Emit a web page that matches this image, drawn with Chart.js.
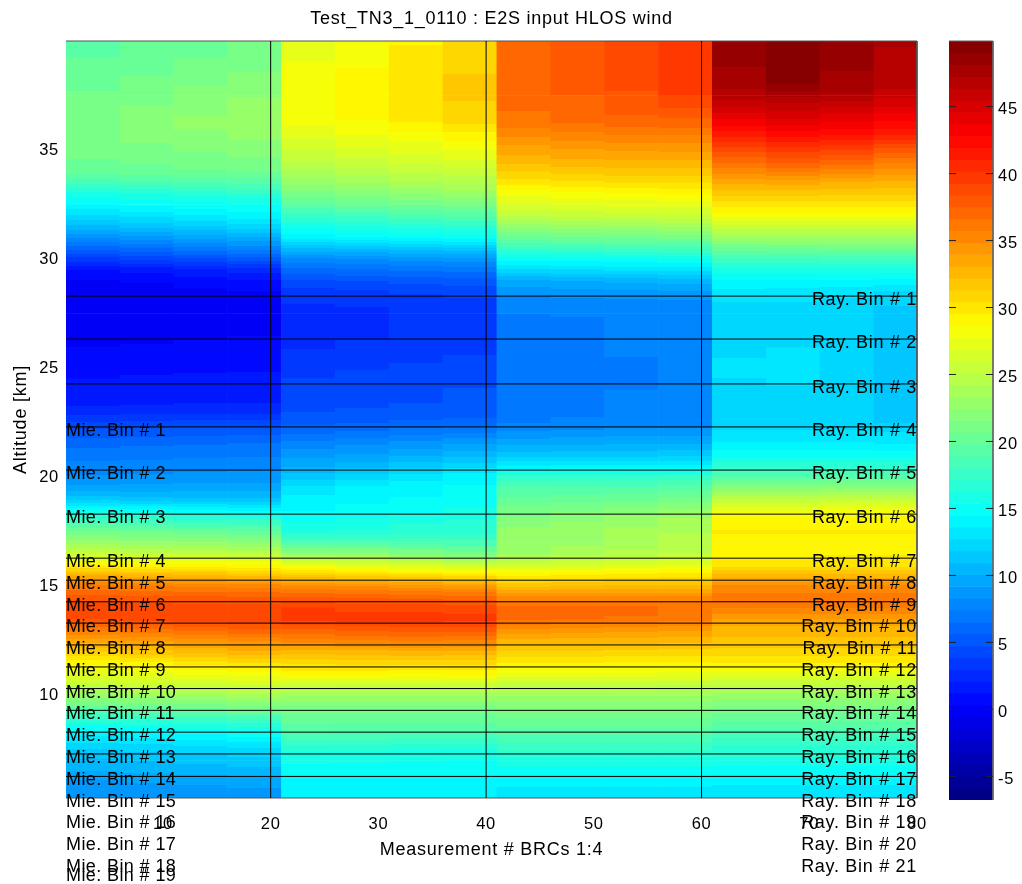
<!DOCTYPE html>
<html><head><meta charset="utf-8">
<script src="https://cdn.jsdelivr.net/npm/chart.js@4/dist/chart.umd.min.js"></script>
<style>
html,body{margin:0;padding:0;background:#fff;overflow:hidden}
#main{position:absolute;left:0;top:0}
#bar{position:absolute;left:930px;top:0}
</style></head><body>
<canvas id="main" width="1022" height="884"></canvas>
<canvas id="bar" width="92" height="884"></canvas>
<script>
const titleText = "Test_TN3_1_0110 : E2S input HLOS wind";
const xLabelText = "Measurement # BRCs 1:4";
const yLabelText = "Altitude [km]";
const xTickValues = [10,20,30,40,50,60,70,80];
const yTickValues = [10,15,20,25,30,35];
const colorTickValues = [-5,0,5,10,15,20,25,30,35,40,45];
const xRange = [1,80];
const yRange = [5.28,40];
const colorRange = [-6.77,49.9];
const colorLevels = 64;
const brcLines = [20,40,60];
const binLines = [28.3,26.33,24.27,22.3,20.32,18.3,16.28,15.27,14.28,13.3,12.3,11.29,10.3,9.3,8.3,7.3,6.27];
const mieLabelAlts = [22.3,20.32,18.3,16.28,15.27,14.28,13.3,12.3,11.29,10.3,9.3,8.3,7.3,6.27,5.29,4.3,3.3,2.3,1.9];
const rayLabelAlts = [28.3,26.33,24.27,22.3,20.32,18.3,16.28,15.27,14.28,13.3,12.3,11.29,10.3,9.3,8.3,7.3,6.27,5.29,4.3,3.3,2.3];
const altitudes = [40,39.5,39,38.5,38,37.5,37,36.5,36,35.5,35,34.5,34,33.5,33,32.5,32,31.5,31,30.5,30,29.5,29,28.5,28,27.5,27,26.5,26,25.5,25,24.5,24,23.5,23,22.5,22,21.5,21,20.5,20,19.5,19,18.5,18,17.5,17,16.5,16,15.5,15,14.5,14,13.5,13,12.5,12,11.5,11,10.5,10,9.5,9,8.5,8,7.5,7,6.5,6,5.5];
const columnMeasurements = [3.5,8.5,13.5,18.5,23.5,28.5,33.5,38.5,43.5,48.5,53.5,58.5,63.5,68.5,73.5,78.5];

const brc1 = [[19.6,19.9,20.3,20.8],[19.7,20,20.5,21],[19.9,20.3,20.8,21.3],[20.2,20.6,21.1,21.6],[20.5,21,21.5,22],
[20.8,21.3,21.9,22.4],[21,21.6,22.2,22.7],[21.3,21.8,22.5,23],[21.4,21.9,22.5,23],[21.3,21.7,22.2,22.5],
[21,21.3,21.7,22],[20.6,20.8,21.1,21.3],[20.1,20.3,20.5,20.7],[18.3,18.6,18.9,19.2],[15.8,16.2,16.6,17],
[14.4,14.8,15,15.2],[12.6,13,13.6,14.2],[10.8,11.3,11.8,12.4],[8.5,9,9.5,10],[6,6.5,7.2,7.8],
[3.5,4,4.6,5.2],[1.2,1.5,2,2.5],[0.2,0.4,0.7,1.1],[-0.2,-0.1,0.1,0.3],[-0.4,-0.4,-0.3,0],
[-0.4,-0.5,-0.3,0.1],[-0.3,-0.3,-0.1,0.2],[0,0,0.2,0.3],[0.3,0.4,0.5,0.5],[0.6,0.7,0.8,0.8],
[0.9,1,1,1.1],[1.2,1.3,1.4,1.4],[1.5,1.6,1.7,1.7],[1.7,1.8,1.9,1.9],[2.5,2.6,2.7,2.7],
[4,4.1,4.2,4.2],[5.2,5.3,5.4,5.5],[6.3,6.4,6.5,6.6],[7,7.1,7.2,7.3],[7.7,7.8,7.9,8],
[8.4,8.5,8.6,8.6],[9.5,9.5,9.6,9.6],[11.4,11.2,11,11],[15,14.7,14.4,14.2],[18,17.8,17.4,17.2],
[20.8,20.5,20.2,20],[23,22.8,22.5,22.2],[25.5,25.2,25,24.8],[28.8,28.7,28.6,28.5],[33,32.6,32.2,31.8],
[36,35.8,35.6,35.4],[37.8,37.7,37.6,37.5],[39,39,38.9,38.9],[38.5,38.8,38.9,39],[36,36.5,37,37.5],
[33.5,34,34.5,35],[31.5,32,32.5,33],[29,29.5,30,30.5],[27.2,27.5,28,28.4],[25.6,25.8,26,26.2],
[23,23.2,23.5,24],[20.4,20.8,21.2,21.6],[17.6,18,18.4,18.8],[15,15.2,15.5,16],[13.2,13.4,13.8,14.1],
[11.8,12,12.2,12.5],[10.8,11,11.2,11.5],[10,10.2,10.4,10.6],[9,9.2,9.4,9.6],[8.3,8.4,8.6,8.8]];

const brc2 = [[27.4,28.5,29.5,30.6],[27.6,28.6,29.6,30.6],[27.8,28.6,29.8,31],[27.8,28.7,30,31.3],[27.9,28.9,30.3,31.6],
[28,29,30.3,31.4],[28.2,28.9,30.2,31.2],[28.2,28.8,30,31],[27.6,28.2,29,30],[26.8,27.5,28,28.8],
[26,26.6,27.2,27.8],[25.2,25.8,26.3,26.8],[24,24.8,25.2,25.5],[22.8,23.4,24,24.4],[21.2,22,22.5,23],
[19.6,20.2,20.8,21.2],[17.6,18.2,18.8,19.2],[15.6,16.2,16.6,16.8],[14,14.4,14.8,15],[11,11.2,11.5,11.7],
[8,8.3,8.6,8.8],[6.2,6.5,6.7,6.9],[4.6,4.8,5,5.2],[3.5,3.7,4,4.2],[3,3.1,3.4,3.6],
[2.7,2.8,3.1,3.4],[2.6,2.8,3.1,3.4],[2.7,2.9,3.2,3.5],[2.9,3.1,3.4,3.7],[3.2,3.4,3.7,3.9],
[3.5,3.8,4,4.2],[3.9,4.2,4.4,4.5],[4.3,4.5,4.6,4.8],[4.5,4.6,4.7,4.9],[4.7,4.8,4.9,5],
[5.4,5.6,5.8,6],[6.5,6.8,7.2,7.5],[7.8,8.2,8.7,9.2],[8.9,9.3,9.9,10.6],[10,10.6,11.5,12.4],
[11.4,12.3,13.2,14.2],[13,13.8,14.4,14.6],[13.9,14.3,14.5,14.7],[14.4,14.7,15.1,15.5],[15.2,15.6,16,16.3],
[16.2,16.5,16.8,16.8],[18.8,18.6,18.6,18.4],[22.5,22.5,21.5,21],[27,26.5,26,25.5],[31.5,31,30.5,30],
[35,34.8,34.4,34],[37.6,37.4,37.2,37],[39.3,39,39,38.8],[39.8,39.8,39.8,39.6],[37.4,37.8,38,38],
[35.4,35.6,35.8,35.6],[32.6,32.8,33,33],[30.6,30.8,30.9,30.8],[29.2,29.2,29,29],[26,25.8,25.8,25.9],
[23.5,23.5,23.5,23.5],[21.4,21.4,21.4,21.4],[20.4,20.4,20.4,20.4],[19.5,19.4,19.3,19.3],[18.2,18.2,18,18],
[16.4,16.4,16.3,16.2],[15.6,15.5,15.4,15.3],[14.8,14.8,14.8,14.8],[14.2,14.2,14.2,14.2],[13.6,13.6,13.6,13.6]];

const brc3 = [[37.4,38.2,39.3,40.1],[37.2,38,39,40],[37,37.9,38.8,39.9],[37,37.8,38.6,39.8],[37,37.6,38.5,39.7],
[36.9,37.5,38.3,39.3],[36.8,37.3,38,38.5],[36.4,37,37.4,37.6],[35.7,36.2,36.5,36.6],[34.6,35,35.2,35.2],
[33.5,33.9,34.1,34.2],[32.6,32.9,33,33],[31.3,31.6,31.8,31.8],[29.9,30.2,30.4,30.4],[28,28.4,28.6,28.8],
[26.8,27,27.2,27.4],[25.3,25.4,25.6,25.8],[22.8,23,23.2,23.4],[20.5,20.7,20.9,21],[17.7,18,18.2,18.4],
[14.8,15,15.2,15.4],[12.5,12.7,12.9,13],[9.9,10.1,10.3,10.5],[8.6,8.8,8.9,9],[7.8,7.9,8,8],
[7.4,7.5,7.7,7.9],[7.2,7.2,7.5,7.8],[7.1,7.2,7.5,7.8],[7.1,7.2,7.4,7.7],[7.1,7.1,7.4,7.7],
[7.1,7.1,7.3,7.7],[7.1,7.1,7.3,7.6],[7.1,7.1,7.4,7.6],[7.2,7.2,7.5,7.6],[7.2,7.3,7.6,7.6],
[7.3,7.5,7.7,7.7],[8.5,8.7,8.9,8.9],[9.9,10,10.1,10.1],[11.4,11.5,11.5,11.6],[13.7,13.8,13.8,13.9],
[17.2,17.3,17.3,17.5],[19,19.1,19.1,19.4],[20,20.2,20.4,20.8],[21,21.4,21.8,22.6],[21.9,22.3,22.9,23.6],
[22.8,23.2,23.7,24.2],[22.8,23.2,23.8,24.4],[23.2,23.8,24.4,25],[25.6,26,26.6,27],[29.4,29.6,29.8,30],
[32,32.2,32.4,32.4],[35,35,35,35],[36.9,36.9,36.9,36.6],[36.8,36.7,36.5,36.2],[34.8,34.6,34.4,34.2],
[32.7,32.7,32.6,32.5],[31.2,31.2,31.1,31],[29.7,29.6,29.5,29.5],[27.8,27.8,27.7,27.6],[25.4,25.4,25.4,25.3],
[23.4,23.4,23.4,23.4],[22,22,22,22],[20.8,20.8,20.8,20.8],[19.8,19.8,19.8,19.8],[18.5,18.5,18.5,18.5],
[17.3,17.3,17.3,17.3],[16,16,16,16],[14.9,14.9,14.9,14.9],[14.1,14.1,14.1,14.1],[13,13,13,13]];

const brc4 = [[48.4,49.6,48.5,47.3],[48.3,49.5,48.4,47.2],[48.2,49.3,48.2,47.1],[48,49.2,48.1,47],[47.5,49,47.9,46.8],
[46.8,47.4,47,45.8],[45.6,45.9,45.6,44.6],[44,44.8,44.2,43.2],[42.5,43.2,43,42.1],[40.6,41.6,41.3,40.4],
[38.7,39.5,39.2,38],[36.9,37.9,37.4,36],[35.2,35.8,35.2,34.4],[33.2,33.4,33,32.8],[31.6,31.6,31.5,31.5],
[29.9,29.9,29.9,30],[28.2,28.2,28.2,28.2],[25.6,25.6,25.6,25.6],[23.6,23.6,23.6,23.6],[20.5,20.6,20.8,20.8],
[18,18,18.2,18.2],[15.8,15.8,15.9,15.8],[14.3,14.3,14.3,14.2],[13.3,13.2,13.1,12.6],[12.7,12.7,12.4,12],
[12.4,12.4,12,11.5],[12.2,12.3,11.9,11.1],[12.3,12.5,12,11.3],[12.5,12.7,12.2,11.5],[12.7,13,12.6,11.8],
[12.8,13.1,12.6,11.8],[12.7,12.9,12.4,11.6],[12.5,12.6,12,11.3],[12.3,12.3,11.9,11.3],[12.1,12.1,11.9,11.5],
[12.2,12.2,12,11.8],[13,13,13,12.8],[13.8,13.8,13.8,13.6],[15.1,15.1,15.1,15],[17,17,17,16.9],
[19.2,19.2,19.4,19.4],[22,22,22.2,22.2],[25,25,25.2,25.2],[27.6,27.6,27.8,27.8],[29,29,29,29],
[29.6,29.6,29.6,29.6],[29.3,29.3,29.3,29.3],[29.3,29.3,29.5,29.5],[29.8,29.8,29.8,29.8],[32.5,32.5,32.5,32.5],
[35,35,35,35],[36.2,36.2,36.2,36.2],[35.8,35.8,35.8,35.8],[34,34,34,34],[32.6,32.6,32.6,32.6],
[32,32,32,32],[31,31,31,31],[29.6,29.6,29.6,29.6],[27.3,27.3,27.3,27.3],[25.2,25.2,25.2,25.2],
[23,23,23,23],[21.5,21.5,21.5,21.5],[20.3,20.3,20.3,20.3],[19,19,19,19],[17.8,17.8,17.8,17.8],
[16.7,16.7,16.7,16.7],[16,16,16,16],[14.8,14.8,14.8,14.8],[13.8,13.8,13.8,13.8],[12.8,12.8,12.8,12.8]];

const colorSpan=colorRange[1]-colorRange[0];
function clamp01(a){return Math.max(0,Math.min(1,a));}
function jetLevel(i){
  const t=(i+0.5)/colorLevels;
  const c=k=>Math.round(255*clamp01(1.5-Math.abs(4*t-k)));
  return `rgb(${c(3)},${c(2)},${c(1)})`;
}
function levelOf(v){
  return Math.max(0,Math.min(colorLevels-1,Math.floor((v-colorRange[0])/colorSpan*colorLevels)));
}
// Shades a cell between its two row values, in the 64 bands of the colour scale.
function cellFill(c,yScale){
  const a=levelOf(c.top), b=levelOf(c.bottom);
  if(a===b) return jetLevel(a);
  const g=yScale.ctx.createLinearGradient(0,yScale.getPixelForValue(c.y[1]),0,yScale.getPixelForValue(c.y[0]));
  const dir=b>a?1:-1;
  let from=0;
  for(let i=a;i!==b;i+=dir){
    const edge=colorRange[0]+(dir>0?i+1:i)*colorSpan/colorLevels;
    const p=clamp01((edge-c.top)/(c.bottom-c.top));
    g.addColorStop(from,jetLevel(i));
    g.addColorStop(p,jetLevel(i));
    from=p;
  }
  g.addColorStop(from,jetLevel(b));
  g.addColorStop(1,jetLevel(b));
  return g;
}

const cells=[];
altitudes.forEach((alt,r)=>{
  const row=[...brc1[r],...brc2[r],...brc3[r],...brc4[r]];
  const last=r===altitudes.length-1;
  const below=last?row:[...brc1[r+1],...brc2[r+1],...brc3[r+1],...brc4[r+1]];
  const lower=last?yRange[0]:altitudes[r+1];
  row.forEach((v,c)=>{
    cells.push({x:columnMeasurements[c],y:[lower,alt],top:v,bottom:below[c]});
  });
});

const lineBase={type:'line',pointRadius:0,borderWidth:1,borderColor:'#000',order:1,fill:false,tension:0};
const lineDatasets=[
  ...binLines.map(a=>({...lineBase,data:[{x:xRange[0],y:a},{x:xRange[1],y:a}]})),
  ...brcLines.map(m=>({...lineBase,data:[{x:m,y:yRange[0]},{x:m,y:yRange[1]}]})),
  {...lineBase,borderColor:'#555',clip:2,data:[{x:xRange[0],y:yRange[1]},{x:xRange[1],y:yRange[1]},{x:xRange[1],y:yRange[0]},{x:xRange[0],y:yRange[0]}]}
];

const textSpacing={id:'textSpacing',beforeDraw(chart){chart.ctx.letterSpacing='0.75px';}};
const binLabels={id:'binLabels',afterDatasetsDraw(chart){
  const {ctx,scales:{x,y}}=chart;
  ctx.save();
  ctx.font='18px "Liberation Sans"';
  ctx.fillStyle='#000';
  ctx.textBaseline='middle';
  ctx.letterSpacing='0.4px';
  ctx.textAlign='left';
  mieLabelAlts.forEach((a,i)=>ctx.fillText('Mie. Bin # '+(i+1),x.getPixelForValue(xRange[0]),y.getPixelForValue(a)+4));
  ctx.letterSpacing='0.7px';
  ctx.textAlign='right';
  rayLabelAlts.forEach((a,i)=>ctx.fillText('Ray. Bin # '+(i+1),x.getPixelForValue(xRange[1]),y.getPixelForValue(a)+4));
  ctx.restore();
}};

const fontTick={family:'"Liberation Sans"',size:16.5};
const fontTitle={family:'"Liberation Sans"',size:18,weight:'normal',lineHeight:1.2};
new Chart(document.getElementById('main'),{
  type:'bar',
  data:{datasets:[{data:cells,
    backgroundColor:c=>c.dataIndex===undefined?'#000':cellFill(cells[c.dataIndex],c.chart.scales.y),
    borderWidth:0,barPercentage:1,categoryPercentage:1,order:10},...lineDatasets]},
  plugins:[textSpacing,binLabels],
  options:{
    responsive:false,animation:false,events:[],
    layout:{padding:{right:105,left:0,top:0,bottom:0}},
    plugins:{legend:{display:false},tooltip:{enabled:false},
      title:{display:true,fullSize:false,text:titleText,color:'#000',font:fontTitle,padding:{top:8,bottom:11.4}}},
    scales:{
      x:{type:'linear',offset:false,min:xRange[0],max:xRange[1],
        afterBuildTicks:s=>{s.ticks=xTickValues.map(v=>({value:v}));},
        afterFit:s=>{s.height=86;},
        grid:{display:false,drawTicks:false,offset:false},border:{display:false},
        ticks:{color:'#000',font:fontTick,padding:17,autoSkip:false,maxRotation:0},
        title:{display:true,text:xLabelText,color:'#000',font:fontTitle,padding:{top:0,bottom:23}}},
      y:{type:'linear',min:yRange[0],max:yRange[1],
        afterBuildTicks:s=>{s.ticks=yTickValues.map(v=>({value:v}));},
        afterFit:s=>{s.width=66;},
        grid:{display:false,drawTicks:false},border:{display:false},
        ticks:{color:'#000',font:fontTick,padding:7,autoSkip:false},
        title:{display:true,text:yLabelText,color:'#000',font:fontTitle,padding:{top:10,bottom:0}}}
    }
  }
});

const levelSize=colorSpan/colorLevels;
const colorCells=[], colorCellColors=[];
for(let i=0;i<colorLevels;i++){
  colorCells.push({x:0.5,y:[colorRange[0]+i*levelSize,colorRange[0]+(i+1)*levelSize]});
  colorCellColors.push(jetLevel(i));
}
const tickLen=0.16;
const colorTickLines=colorTickValues.flatMap(v=>[
  {...lineBase,borderColor:'#222',data:[{x:0,y:v},{x:tickLen,y:v}]},
  {...lineBase,borderColor:'#222',data:[{x:1-tickLen,y:v},{x:1,y:v}]}
]);
const colorFrame={...lineBase,borderColor:'#666',clip:2,data:[{x:0,y:colorRange[1]},{x:1,y:colorRange[1]},{x:1,y:colorRange[0]}]};
new Chart(document.getElementById('bar'),{
  type:'bar',
  data:{datasets:[{data:colorCells,backgroundColor:colorCellColors,borderWidth:0,barPercentage:1,categoryPercentage:1,order:10},...colorTickLines,colorFrame]},
  plugins:[textSpacing],
  options:{
    responsive:false,animation:false,events:[],
    layout:{padding:{left:19,top:41,right:0,bottom:84}},
    plugins:{legend:{display:false},tooltip:{enabled:false},title:{display:false}},
    scales:{
      x:{type:'linear',offset:false,min:0,max:1,display:false,grid:{offset:false},afterBuildTicks:s=>{s.ticks=[{value:0},{value:1}];}},
      y:{type:'linear',position:'right',min:colorRange[0],max:colorRange[1],
        afterBuildTicks:s=>{s.ticks=colorTickValues.map(v=>({value:v}));},
        afterFit:s=>{s.width=29;},
        grid:{display:false,drawTicks:false},border:{display:false},
        ticks:{color:'#000',font:fontTick,padding:5,autoSkip:false,labelOffset:3}}
    }
  }
});
</script>
</body></html>
